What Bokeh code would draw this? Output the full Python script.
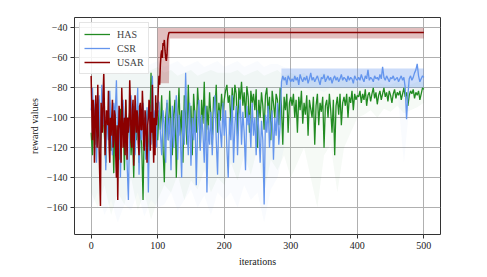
from bokeh.plotting import figure
from bokeh.models import FixedTicker, Range1d
from bokeh.embed import file_html
from bokeh.resources import INLINE

# ---------------- data ----------------
step = 2
has_x = list(range(0, 501, step))
has_y = [
    -110, -125, -98, -118, -92, -105, -88, -120, -100, -95,
    -112, -130, -96, -108, -90, -122, -102, -137, -98, -115,
    -105, -128, -94, -110, -100, -135, -88, -118, -104, -96,
    -125, -108, -140, -99, -115, -92, -130, -105, -118, -155,
    -100, -112, -95, -128, -108, -70, -98, -120, -104, -90, -115,
    -95, -108, -85, -120, -143, -100, -90, -115, -82, -105,
    -125, -98, -88, -140, -102, -80, -112, -95, -130, -85,
    -100, -118, -78, -108, -92, -125, -84, -99, -110, -80,
    -96, -120, -88, -104, -76, -115, -92, -108, -83, -100,
    -118, -86, -95, -78, -110, -90, -102, -84, -98, -88,
    -82, -78, -90, -85, -105, -80, -95, -78, -84, -112,
    -80, -88, -76, -92, -83, -100, -79, -86, -110, -82,
    -90, -84, -95, -81, -120, -88, -100, -83, -92, -108,
    -85, -80, -97, -86, -115, -82, -90, -100, -84, -88,
    -105, -80, -92, -118, -86, -95, -84, -110, -90, -86,
    -92, -84, -100, -88, -110, -86, -95, -82, -104, -90,
    -98, -85, -112, -88, -94, -100, -86, -118, -92, -84,
    -105, -90, -96, -86, -120, -92, -88, -100, -84, -95,
    -110, -88, -125, -92, -86, -98, -84, -105, -90, -86,
    -92, -84, -100, -86, -90, -82, -95, -84, -88, -85,
    -86, -82, -90, -84, -88, -81, -92, -85, -83, -89,
    -84, -80, -87, -83, -91, -85, -82, -88, -84, -80,
    -86, -83, -89, -82, -85, -90, -84, -81, -87, -83,
    -85, -82, -88, -84, -80, -86, -83, -92, -85, -82,
    -84, -81, -87, -83, -85, -82, -88, -84, -80, -81,
]
csr_x = list(range(0, 501, step))
csr_y = [
    -95, -80, -110, -88, -130, -100, -85, -120, -78, -105,
    -92, -135, -98, -115, -82, -108, -125, -90, -100, -75,
    -118, -95, -140, -102, -88, -112, -96, -130, -155, -100,
    -85, -110, -92, -125, -104, -80, -138, -98, -115, -90,
    -107, -128, -93, -150, -100, -118, -72, -105, -95, -120, -88,
    -90, -110, -125, -95, -105, -130, -88, -115, -100, -135,
    -92, -120, -105, -85, -128, -98, -112, -140, -95, -118,
    -70, -105, -125, -90, -132, -100, -115, -95, -145, -108,
    -88, -122, -98, -110, -130, -92, -150, -105, -118, -96,
    -125, -100, -85, -115, -138, -95, -108, -120, -90, -112,
    -95, -120, -140, -100, -115, -85, -130, -105, -92, -125,
    -100, -88, -118, -96, -110, -135, -92, -105, -98, -120,
    -90, -112, -100, -125, -95, -108, -130, -102, -115, -158,
    -98, -110, -92, -120, -104, -95, -128, -100, -112, -90,
    -118, -105, -76, -72, -75, -73, -78, -72, -74, -76,
    -74, -76, -72, -75, -73, -78, -71, -74, -76, -73,
    -75, -72, -77, -74, -70, -75, -73, -76, -74, -72,
    -75, -78, -73, -74, -71, -76, -74, -72, -75, -73,
    -77, -74, -72, -75, -73, -76, -74, -71, -75, -73,
    -74, -76, -72, -75, -73, -74, -77, -72, -74, -75,
    -73, -75, -71, -74, -76, -72, -74, -68, -75, -73,
    -74, -76, -72, -74, -73, -75, -71, -74, -66, -73,
    -75, -72, -74, -76, -73, -74, -72, -75, -74, -73,
    -76, -74, -72, -75, -73, -80, -101, -85, -74, -72,
    -75, -73, -70, -68, -64, -72, -76, -74, -72, -73,
]
usar_x = list(range(0, 121)) + [500]
usar_y = [
    -72, -95, -115, -88, -95, -130, -108, -85, -100, -120,
    -78, -105, -120, -140, -159, -90, -100, -110, -85, -70,
    -95, -125, -110, -95, -100, -105, -82, -118, -130, -100,
    -112, -100, -88, -120, -115, -95, -98, -125, -140, -105,
    -155, -118, -92, -100, -108, -130, -80, -95, -120, -110,
    -100, -125, -88, -105, -128, -100, -110, -105, -75, -90,
    -115, -120, -95, -88, -132, -110, -85, -100, -110, -95,
    -100, -118, -125, -92, -90, -108, -108, -82, -95, -118,
    -122, -95, -100, -115, -130, -105, -100, -88, -92, -122,
    -96, -110, -78, -110, -130, -100, -125, -85, -105, -100,
    -95, -80, -72, -78, -65, -58, -55, -60, -50, -52, -48,
    -55, -60, -62, -58, -48, -45, -43, -43, -43, -43,
    -43,
]

# shaded bands (spread over runs)
env_x = list(range(0, 501, 10))
has_low = [
    -150, -160, -145, -165, -150, -158, -140, -162, -150, -168, -155,
    -145, -150, -138, -155, -142, -148, -135, -150, -140, -145,
    -130, -142, -125, -138, -120, -150, -128, -135, -125, -140,
    -130, -120, -140, -160, -125, -118, -150, -120, -110, -100,
    -98, -95, -100, -94, -96, -92, -97, -95, -93, -90,
]
has_high = [
    -68, -66, -70, -68, -66, -70, -68, -66, -70, -68, -66,
    -70, -68, -72, -70, -68, -72, -70, -68, -70, -70,
    -70, -68, -72, -70, -68, -72, -70, -68, -72, -70,
    -72, -70, -74, -72, -70, -74, -72, -74, -76, -76,
    -78, -78, -76, -78, -78, -76, -78, -78, -76, -76,
]
csr_low = [
    -160, -150, -165, -155, -170, -158, -162, -150, -166, -155, -160,
    -158, -150, -162, -155, -148, -160, -152, -165, -150, -155,
    -150, -160, -145, -155, -150, -170, -148, -140, -120, -82,
    -82, -80, -82, -81, -83, -80, -82, -81, -82, -80,
    -82, -81, -83, -80, -82, -81, -130, -85, -82, -81,
]
csr_high = [
    -64, -62, -66, -64, -62, -66, -64, -62, -66, -64, -62,
    -66, -64, -62, -66, -64, -62, -66, -64, -62, -66,
    -64, -62, -66, -64, -62, -66, -64, -64, -66, -67,
    -67, -67, -67, -67, -67, -67, -67, -67, -67, -67,
    -67, -67, -67, -67, -67, -67, -67, -67, -67, -67,
]
csr_band_x = [286, 500]
csr_band_low = [-80, -80]
csr_band_high = [-67, -67]
usar_band_x = [100, 103, 117, 118, 500]
usar_band_low = [-77, -77, -77, -47, -47]
usar_band_high = [-40, -40, -40, -40, -40]

x_ticks = [0, 100, 200, 300, 400, 500]
y_ticks = [-160, -140, -120, -100, -80, -60, -40]

GREEN = "#228B22"
BLUE = "#6495ED"
RED = "#8B0000"
FONT = "Liberation Serif"

# ---------------- figure ----------------
p = figure(width=479, height=269, output_backend="svg", toolbar_location=None,
           x_range=Range1d(-25, 525), y_range=Range1d(-178, -33),
           min_border_left=74, min_border_right=39, min_border_top=17,
           min_border_bottom=34)

p.varea(x=env_x, y1=has_low, y2=has_high, fill_color=GREEN, fill_alpha=0.04)
p.varea(x=env_x, y1=csr_low, y2=csr_high, fill_color=BLUE, fill_alpha=0.04)
p.varea(x=csr_band_x, y1=csr_band_low, y2=csr_band_high, fill_color=BLUE, fill_alpha=0.3)
p.varea(x=usar_band_x, y1=usar_band_low, y2=usar_band_high, fill_color=RED, fill_alpha=0.25)

p.line(has_x, has_y, color=GREEN, line_width=1.3, legend_label="HAS")
p.line(csr_x, csr_y, color=BLUE, line_width=1.3, legend_label="CSR")
p.line(usar_x, usar_y, color=RED, line_width=1.5, legend_label="USAR")

p.xaxis.ticker = FixedTicker(ticks=x_ticks)
p.yaxis.ticker = FixedTicker(ticks=y_ticks)
for ax in (p.xaxis[0], p.yaxis[0]):
    ax.axis_line_color = None
    ax.major_tick_out = 4
    ax.major_tick_in = 0
    ax.major_tick_line_color = "#333333"
    ax.minor_tick_line_color = None
    ax.major_label_text_font = FONT
    ax.major_label_text_font_size = "10px"
    ax.major_label_text_color = "#222222"
    ax.axis_label_text_font = FONT
    ax.axis_label_text_font_size = "10px"
    ax.axis_label_text_font_style = "normal"
    ax.axis_label_text_color = "#222222"
    ax.major_label_standoff = 3
p.xaxis.axis_label = "iterations"
p.yaxis.axis_label = "reward values"
p.xaxis.axis_label_standoff = 4
p.yaxis.axis_label_standoff = 4

p.xgrid.grid_line_color = "#b0b0b0"
p.ygrid.grid_line_color = "#b0b0b0"
p.xgrid.grid_line_width = 1
p.ygrid.grid_line_width = 1

p.outline_line_color = "#333333"
p.outline_line_width = 1
p.background_fill_color = "white"

lg = p.legend[0]
lg.location = "top_left"
lg.margin = 5
lg.padding = 4
lg.spacing = 0
lg.glyph_width = 26
lg.glyph_height = 14
lg.label_height = 14
lg.label_standoff = 7
lg.label_text_font = FONT
lg.label_text_font_size = "10px"
lg.border_line_color = "#cccccc"
lg.background_fill_alpha = 0.85

open("out.html", "w").write(file_html(p, INLINE))
